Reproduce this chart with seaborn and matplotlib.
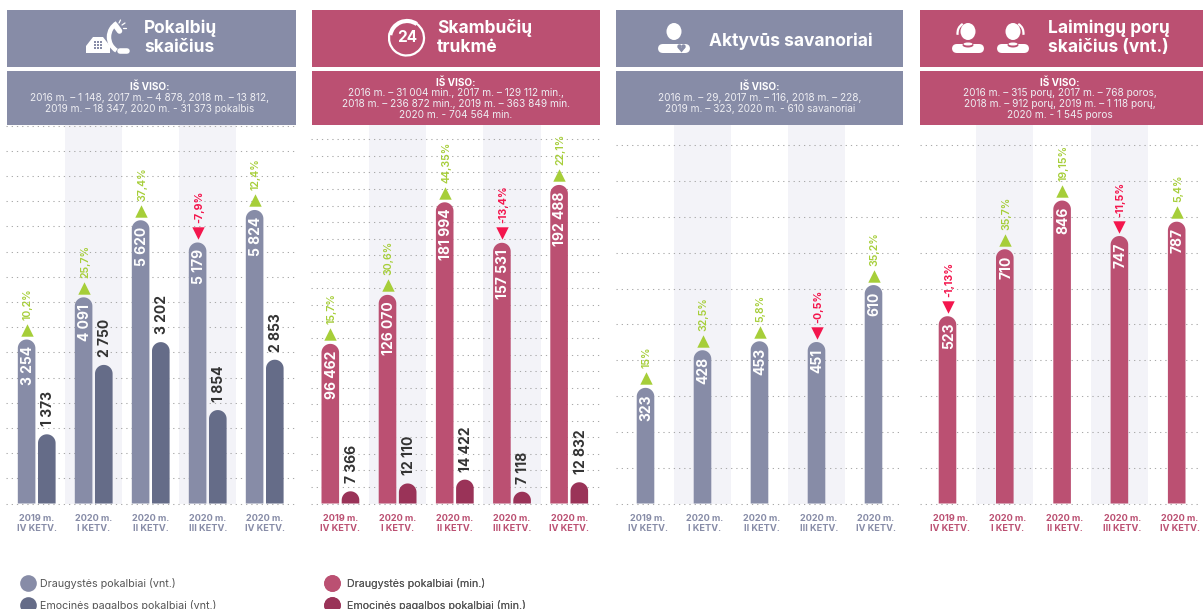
import numpy as np
import pandas as pd
import seaborn as sns
import matplotlib.pyplot as plt
from matplotlib.lines import Line2D
from matplotlib.patches import Arc, Circle, Ellipse, Polygon, Rectangle, FancyBboxPatch
from matplotlib.transforms import ScaledTranslation

quarters = ["2019 m.\nIV KETV.", "2020 m.\nI KETV.", "2020 m.\nII KETV.", "2020 m.\nIII KETV.", "2020 m.\nIV KETV."]

calls_friend = [3254, 4091, 5620, 5179, 5824]
calls_emotional = [1373, 2750, 3202, 1854, 2853]
calls_change = ["10,2%", "25,7%", "37,4%", "-7,9%", "12,4%"]

minutes_friend = [96462, 126070, 181994, 157531, 192488]
minutes_emotional = [7366, 12110, 14422, 7118, 12832]
minutes_change = ["15,7%", "30,6%", "44,35%", "-13,4%", "22,1%"]

volunteers = [323, 428, 453, 451, 610]
volunteers_change = ["15%", "32,5%", "5,8%", "-0,5%", "35,2%"]

couples = [523, 710, 846, 747, 787]
couples_change = ["-1,13%", "35,7%", "19,15%", "-11,5%", "5,4%"]

calls_total = ["2016 m. – 1 148, 2017 m. – 4 878, 2018 m. – 13 812,",
               "2019 m. – 18 347, 2020 m. - 31 373 pokalbis"]
minutes_total = ["2016 m. – 31 004 min., 2017 m. – 129 112 min.,",
                 "2018 m. – 236 872 min., 2019 m. – 363 849 min.",
                 "2020 m. - 704 564 min."]
volunteers_total = ["2016 m. – 29, 2017 m. – 116, 2018 m. – 228,",
                    "2019 m. – 323, 2020 m. - 610 savanoriai"]
couples_total = ["2016 m. – 315 porų, 2017 m. – 768 poros,",
                 "2018 m. – 912 porų, 2019 m. – 1 118 porų,",
                 "2020 m. - 1 545 poros"]

GREY = "#878ca7"
GREY_DARK = "#656c88"
PINK = "#bb5072"
PINK_DARK = "#9a3358"
GREEN = "#a6ce39"
RED = "#f3164d"
BAND = "#f3f3f8"
W, H = 1203, 609
TOP, BASE = 125, 503.5
BAR_PX = 17.6

sns.set_theme(style="white")
plt.rcParams["font.family"] = ["Inter", "DejaVu Sans"]

fig = plt.figure(figsize=(W / 100, H / 100), dpi=100)
over = fig.add_axes([0, 0, 1, 1], zorder=5)
over.set_xlim(0, W)
over.set_ylim(H, 0)
over.axis("off")


def draw_panel(left, right, first, step, unit_max, grid_step, series, changes, color, label_shift):
    ax = fig.add_axes([left / W, 1 - BASE / H, (right - left) / W, (BASE - TOP) / H])
    if len(series) == 2:
        df = pd.DataFrame({"q": quarters * 2,
                           "v": series[0][1] + series[1][1],
                           "s": [series[0][0]] * 5 + [series[1][0]] * 5})
        sns.barplot(data=df, x="q", y="v", hue="s", palette=[s[2] for s in series],
                    width=2 * 20.2 / step, gap=1 - BAR_PX / 20.2, saturation=1, legend=False, ax=ax)
    else:
        df = pd.DataFrame({"q": quarters, "v": series[0][1]})
        sns.barplot(data=df, x="q", y="v", color=series[0][2], width=BAR_PX / step, saturation=1, ax=ax)

    ax.set_xlim((left - first) / step, (right - first) / step)
    ax.set_ylim(0, unit_max)
    ax.set_xlabel("")
    ax.set_ylabel("")
    ax.patch.set_alpha(0)
    sns.despine(ax=ax, left=True, bottom=True)

    ax.set_yticks(np.arange(0, unit_max, grid_step))
    ax.set_yticklabels([])
    ax.tick_params(axis="both", length=0)
    ax.tick_params(axis="x", pad=7.5)
    ax.set_axisbelow(True)
    ax.grid(axis="y", color="#a9a9a9", linewidth=0.75, linestyle=(0, (1.2, 3.8)))
    for line in ax.get_ygridlines():
        line.set_clip_on(False)
    ax.grid(axis="x", visible=False)
    ax.axvspan(0.5, 1.5, color=BAND, lw=0, zorder=0)
    ax.axvspan(2.5, 3.5, color=BAND, lw=0, zorder=0)

    for lab in ax.get_xticklabels():
        lab.set_fontsize(6.6)
        lab.set_fontweight("bold")
        lab.set_color(color)
        lab.set_linespacing(1.1)
        lab.set_transform(lab.get_transform() + ScaledTranslation(label_shift / 100, 0, fig.dpi_scale_trans))

    px_x = step
    px_y = (BASE - TOP) / unit_max
    nudge = 1.3 / px_x  # rotated text sits a bit left of the bar centre
    for c, container in enumerate(ax.containers):
        for i, bar in enumerate(container):
            x0, w, h = bar.get_x(), bar.get_width(), bar.get_height()
            xc = x0 + w / 2
            ry = (w * px_x / 2) / px_y
            t = np.linspace(np.pi, 0, 30)
            pts = [(x0, 0)] + list(zip(xc + w / 2 * np.cos(t), h - ry + ry * np.sin(t))) + [(x0 + w, 0)]
            bar.set_visible(False)
            ax.add_patch(Polygon(pts, closed=True, fc=bar.get_facecolor(), ec="none", zorder=2))
            num = f"{int(h):,}".replace(",", " ")
            if c == 0:
                ax.text(xc + nudge, h - 6.5 / px_y, num, rotation=90, ha="center", va="top", color="white",
                        fontsize=10, fontweight="bold", zorder=3)
                up = not changes[i].startswith("-")
                col = GREEN if up else RED
                ax.scatter([xc], [h + 9.5 / px_y], marker="^" if up else "v", s=80, color=col, lw=0, zorder=3)
                ax.text(xc + nudge, h + 19.5 / px_y, changes[i], rotation=90, ha="center", va="bottom", color=col,
                        fontsize=7.6, fontweight="bold" if not up else "semibold", zorder=3)
            else:
                ax.text(xc + nudge, h + 8 / px_y, num, rotation=90, ha="center", va="bottom", color="#333333",
                        fontsize=10, fontweight="bold", zorder=3)
    return ax


ax1 = draw_panel(6, 294, 36.7, 57.0, 7510, 500,
                 [("Draugystės pokalbiai (vnt.)", calls_friend, GREY),
                  ("Emocinės pagalbos pokalbiai (vnt.)", calls_emotional, GREY_DARK)],
                 calls_change, GREY, 0)
ax2 = draw_panel(311, 599, 340.4, 57.2, 228700, 10000,
                 [("Draugystės pokalbiai (min.)", minutes_friend, PINK),
                  ("Emocinės pagalbos pokalbiai (min.)", minutes_emotional, PINK_DARK)],
                 minutes_change, PINK, 0)
ax3 = draw_panel(616, 902, 645.5, 57.0, 1057, 100,
                 [("Aktyvūs savanoriai", volunteers, GREY)],
                 volunteers_change, GREY, 2.2)
ax4 = draw_panel(919.5, 1201, 947.5, 57.3, 1057, 100,
                 [("Laimingos poros", couples, PINK)],
                 couples_change, PINK, 3)

# header boxes
headers = [(7, 295.5, GREY, ["Pokalbių", "skaičius"], 144.3, calls_total, 149.5),
           (311.5, 600, PINK, ["Skambučių", "trukmė"], 437.3, minutes_total, 455.5),
           (616, 903, GREY, ["Aktyvūs savanoriai"], 709.3, volunteers_total, 760),
           (920, 1203, PINK, ["Laimingų porų", "skaičius (vnt.)"], 1047.7, couples_total, 1059.5)]
for x0, x1, col, title, tx, total, cx in headers:
    over.add_patch(Rectangle((x0, 9.5), x1 - x0, 57.7, fc=col, ec="none"))
    over.add_patch(Rectangle((x0, 71), x1 - x0, 54, fc=col, ec="none"))
    ys = [41] if len(title) == 1 else [28, 48]
    for y, line in zip(ys, title):
        over.text(tx, y, line, color="white", fontsize=12.5, fontweight="bold", ha="left", va="center")
    y0 = 86.7 if len(total) == 2 else 82.4
    over.text(cx, y0, "IŠ VISO:", color="white", fontsize=7.2, fontweight="bold", ha="center", va="center")
    for i, line in enumerate(total):
        over.text(cx, y0 + (i + 1) * 11, line, color="#eeeef3", fontsize=7.25, ha="center", va="center")

# icons
over.add_patch(Polygon([(86, 53), (86, 46), (93, 37), (103, 37), (110, 46), (110, 53)], fc="white", ec="none"))
for dx in (95, 98, 101):
    for dy in (42, 45, 48):
        over.add_patch(Rectangle((dx - 0.7, dy - 0.7), 1.4, 1.4, fc=GREY, ec="none"))
over.add_patch(Arc((125, 37), 32, 32, theta1=122, theta2=240, color="white", lw=3.2))
over.plot([115.5, 119.5], [25.5, 31], color="white", lw=4, solid_capstyle="round")
over.plot([120, 127], [50.5, 50.5], color="white", lw=4, solid_capstyle="round")
over.plot([119, 120.5], [23, 20], color="white", lw=0.9)
over.plot([122, 125], [25, 23], color="white", lw=0.9)
over.plot([123, 126], [28, 28], color="white", lw=0.9)

over.add_patch(Arc((406.5, 38), 35, 35, theta1=-55, theta2=195, color="white", lw=1.6))
over.add_patch(Arc((407, 38), 34, 34, theta1=190, theta2=305, color="white", lw=3))
over.text(407, 38, "24", color="white", fontsize=11, fontweight="bold", ha="center", va="center")


def person(cx, color, side=0):
    over.add_patch(Ellipse((cx, 31.5), 15, 17, fc="white", ec="none"))
    over.add_patch(FancyBboxPatch((cx - 16, 44), 32, 9, boxstyle="round,pad=0,rounding_size=5", fc="white", ec="none"))
    if side:
        over.add_patch(Arc((cx, 33), 21, 21, theta1=-60 if side > 0 else 170, theta2=10 if side > 0 else 240,
                           color="white", lw=1.6))
        over.add_patch(Ellipse((cx, 45), 11, 5, fc=color, ec="none"))
        over.add_patch(Ellipse((cx, 44), 9, 3, fc="white", ec="none"))


person(674, GREY)
over.add_patch(Circle((679.5, 46.5), 2.2, fc=GREY, ec="none"))
over.add_patch(Circle((683.5, 46.5), 2.2, fc=GREY, ec="none"))
over.add_patch(Polygon([(677.5, 47.5), (685.5, 47.5), (681.5, 52.5)], fc=GREY, ec="none"))
person(968, PINK, -1)
person(1013, PINK, 1)

# legends
legends = [(27, 40, "Draugystės pokalbiai (vnt.)", "Emocinės pagalbos pokalbiai (vnt.)", GREY, GREY_DARK),
           (331.7, 346.7, "Draugystės pokalbiai (min.)", "Emocinės pagalbos pokalbiai (min.)", PINK, PINK_DARK)]
for cx, tx, a, b, c1, c2 in legends:
    handles = [Line2D([], [], ls="", marker="o", ms=12, mfc=c, mec="none") for c in (c1, c2)]
    leg = over.legend(handles, [a, b], loc="upper left", frameon=False, fontsize=7.7,
                      bbox_to_anchor=(cx - 8.5, 578), bbox_transform=over.transData,
                      borderaxespad=0, borderpad=0, handletextpad=(tx - cx - 9.7) / 10.7, handlelength=1.7,
                      labelspacing=1.0, labelcolor="#555555")
    over.add_artist(leg)

fig.savefig("out.png", dpi=100)
